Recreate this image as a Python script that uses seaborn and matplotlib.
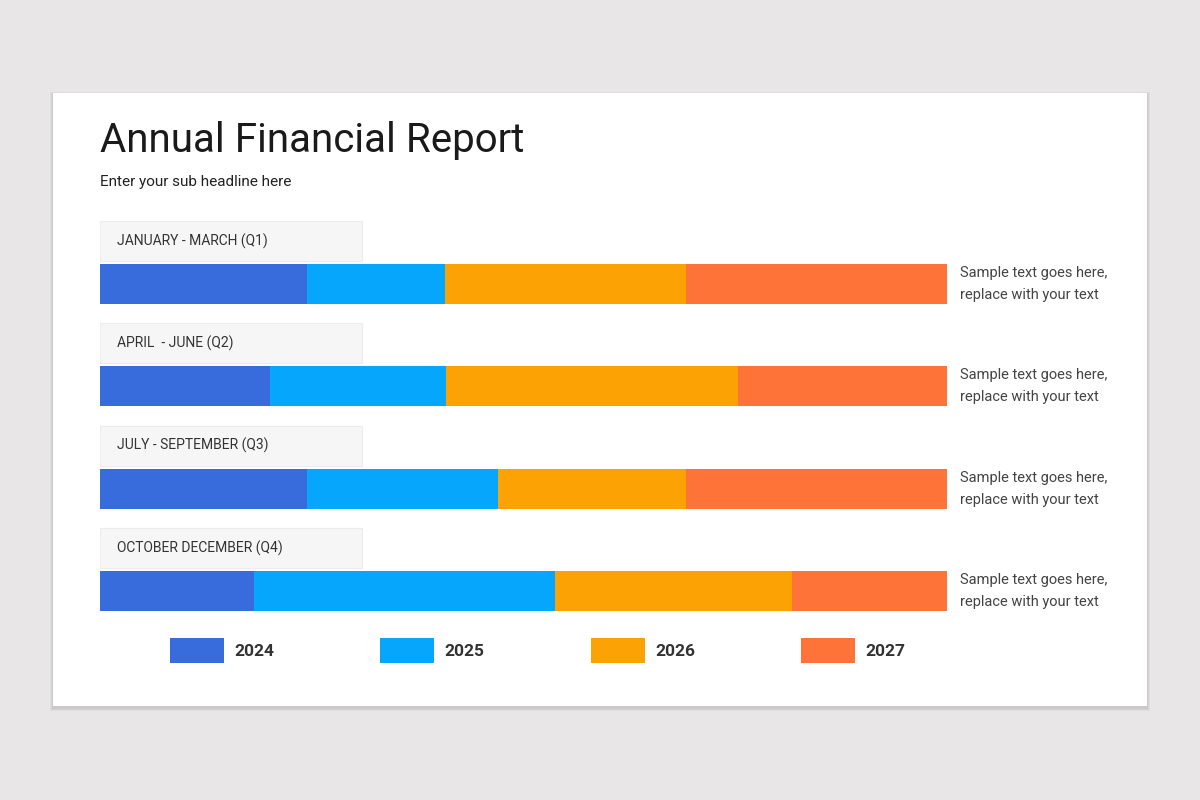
import numpy as np
import pandas as pd
import matplotlib
matplotlib.use("Agg")
import matplotlib.pyplot as plt
import seaborn as sns
from matplotlib.patches import Rectangle

# -------------------------------------------------------- data
QUARTERS = ["JANUARY - MARCH (Q1)", "APRIL  - JUNE (Q2)",
            "JULY - SEPTEMBER (Q3)", "OCTOBER DECEMBER (Q4)"]
YEARS = ["2024", "2025", "2026", "2027"]
V2024 = [24.4, 20.1, 24.4, 18.2]
V2025 = [16.3, 20.7, 22.6, 35.5]
V2026 = [28.5, 34.5, 22.2, 28.0]
V2027 = [30.8, 24.7, 30.8, 18.3]
COLORS = ["#386bdc", "#05a6fc", "#fca205", "#fe7338"]
NOTE = "Sample text goes here,\nreplace with your text"

sns.set_style("white")
plt.rcParams["font.family"] = ["Roboto", "DejaVu Sans"]

W, H = 1200, 800
fig = plt.figure(figsize=(12, 8), dpi=100)
fig.patch.set_facecolor("#e8e6e7")

# card + soft shadow
for i, a in enumerate([0.04, 0.04, 0.05]):
    d = 3 - i
    fig.patches.append(Rectangle(((53 - d) / W, 1 - (706 + d + 2) / H),
                                 (1094 + 2 * d) / W, (613 + 2 * d) / H,
                                 transform=fig.transFigure, color="black",
                                 alpha=a, lw=0, zorder=0))
fig.patches.append(Rectangle((53 / W, 1 - 706 / H), 1094 / W, 613 / H,
                             transform=fig.transFigure, color="white",
                             lw=0, zorder=1))

fig.text(100 / W, 1 - 141 / H, "Annual Financial Report", fontsize=29,
         color="#1a1a1a", va="center", ha="left", zorder=3)
fig.text(100 / W, 1 - 182 / H, "Enter your sub headline here", fontsize=11,
         color="#222222", va="center", ha="left", zorder=3)

# -------------------------------------------------------- bars
df = pd.DataFrame({"quarter": QUARTERS, "2024": V2024, "2025": V2025,
                   "2026": V2026, "2027": V2027})
cum = df[YEARS].cumsum(axis=1)
cum["quarter"] = df["quarter"]

ax = fig.add_axes([100 / W, 1 - 611 / H, 847 / W, 390 / H], zorder=2)
ax.patch.set_alpha(0)
for year, col in reversed(list(zip(YEARS, COLORS))):
    sns.barplot(data=cum, x=year, y="quarter", color=col, width=0.39,
                orient="h", saturation=1, linewidth=0, ax=ax)

pitch = 102.33
ax.set_xlim(0, cum["2027"].max())
ax.set_ylim(3 + 20 / pitch, -(284 - 221) / pitch)
ax.axis("off")

for i, q in enumerate(QUARTERS):
    yc = i - 43 / pitch
    ax.add_patch(Rectangle((0, yc - 20 / pitch), 262 / 847 * 100, 40 / pitch,
                           facecolor="#f6f6f6", edgecolor="#ececec", lw=0.8))
    ax.text(17 / 847 * 100, yc, q, fontsize=10, color="#333333",
            va="center", ha="left")
    fig.text(960 / W, 1 - (284 + 102.33 * i) / H, NOTE, fontsize=10.5,
             color="#444444", va="center", ha="left", linespacing=1.75,
             zorder=3)

# -------------------------------------------------------- legend
for x0, year, col in zip([170, 380, 591, 801], YEARS, COLORS):
    fig.patches.append(Rectangle((x0 / W, 1 - 663 / H), 54 / W, 25 / H,
                                 transform=fig.transFigure, color=col,
                                 lw=0, zorder=3))
    fig.text((x0 + 64) / W, 1 - 651 / H, year, fontsize=12.5,
             fontweight="bold", color="#333333", va="center", ha="left",
             zorder=3)

fig.savefig("out.png", dpi=100)
